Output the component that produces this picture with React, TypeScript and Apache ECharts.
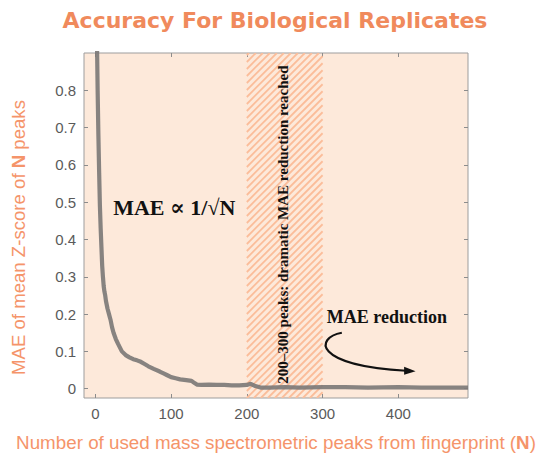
import React, { useEffect, useRef } from "react";
import * as echarts from "echarts";

// ---- data ----
const peaksN = [1, 2, 3, 4, 5, 6, 7, 8, 9, 10, 11, 12, 13, 14, 16, 18, 20, 22, 24, 27, 30, 35, 40, 45, 50, 55, 60, 65, 70, 77, 85, 90, 95, 100, 106, 112, 120, 127, 131, 134, 140, 150, 160, 170, 180, 190, 200, 205, 210, 218, 230, 250, 270, 300, 330, 360, 400, 430, 460, 492];
const maeValues = [1.5, 0.95, 0.8, 0.68, 0.58, 0.49, 0.43, 0.38, 0.33, 0.3, 0.275, 0.26, 0.25, 0.235, 0.215, 0.2, 0.185, 0.165, 0.15, 0.133, 0.12, 0.1, 0.09, 0.084, 0.079, 0.076, 0.072, 0.066, 0.06, 0.053, 0.046, 0.041, 0.036, 0.031, 0.028, 0.025, 0.023, 0.021, 0.015, 0.011, 0.01, 0.011, 0.01, 0.01, 0.009, 0.009, 0.01, 0.013, 0.008, 0.003, 0.003, 0.004, 0.003, 0.004, 0.004, 0.003, 0.004, 0.003, 0.003, 0.003];
const highlightRange = [200, 300];
const xTicks = [0, 100, 200, 300, 400];
const yTicks = [0, 0.1, 0.2, 0.3, 0.4, 0.5, 0.6, 0.7, 0.8];
const xRange = [-15, 492];
const yRange = [-0.025, 0.9];

const titleText = "Accuracy For Biological Replicates";
const xName = "Number of used mass spectrometric peaks from fingerprint ({b|N})";
const yName = "MAE of mean Z-score of {b|N} peaks";
const lawText = "MAE \u221D 1/\u221AN";
const bandText = "200\u2013300 peaks: dramatic MAE reduction reached";
const reductionText = "MAE reduction";

// annotation anchors in data units
const lawAnchor: [number, number] = [23.5, 0.487];
const bandAnchor: [number, number] = [248, 0.44];
const reductionAnchor: [number, number] = [305.5, 0.192];
const arrowStart: [number, number] = [325.4, 0.15];
const arrowCp1: [number, number] = [290.2, 0.137];
const arrowCp2: [number, number] = [286.3, 0.062];
const arrowEnd: [number, number] = [410.3, 0.048];
const arrowTip: [number, number] = [422.8, 0.047];

const ORANGE = "#f08a5c";
const NAME_ORANGE = "#f5946a";
const SANS = '"Liberation Sans", Arial, sans-serif';
const TITLE_FONT = '"DejaVu Sans", Verdana, sans-serif';
const SERIF = '"Liberation Serif", "DejaVu Serif", serif';

export default function App() {
  const ref = useRef<HTMLDivElement>(null);

  useEffect(() => {
    document.body.style.margin = "0";
    if (!ref.current) return;
    const chart = echarts.init(ref.current, null, { renderer: "svg" });

    const tickStyle = { show: true, inside: true, length: 4, lineStyle: { color: "#8c8c8c", width: 1 } };
    const hiddenLine = { show: false, onZero: false };

    const option: any = {
      animation: false,
      backgroundColor: "#ffffff",
      title: {
        text: titleText,
        left: "center",
        top: 4,
        textStyle: { color: ORANGE, fontSize: 22, fontWeight: "bold", fontFamily: TITLE_FONT },
      },
      grid: {
        left: 84,
        right: 82,
        top: 53,
        bottom: 74,
        show: true,
        backgroundColor: "#fde9da",
        borderColor: "#9d9d9d",
        borderWidth: 1,
        containLabel: false,
      },
      xAxis: [
        {
          type: "value",
          min: xRange[0],
          max: xRange[1],
          position: "bottom",
          splitLine: { show: false },
          axisLine: hiddenLine,
          axisTick: { ...tickStyle, customValues: xTicks },
          axisLabel: {
            customValues: xTicks,
            color: "#5a5a5a",
            fontSize: 15,
            fontFamily: SANS,
            margin: 8,
          },
          name: xName,
          nameLocation: "middle",
          nameGap: 35,
          nameTextStyle: {
            color: NAME_ORANGE,
            fontSize: 18.8,
            fontFamily: SANS,
            rich: { b: { color: NAME_ORANGE, fontSize: 18.8, fontFamily: SANS, fontWeight: "bold" } },
          },
        },
        {
          type: "value",
          min: xRange[0],
          max: xRange[1],
          position: "top",
          splitLine: { show: false },
          axisLine: hiddenLine,
          axisTick: { ...tickStyle, customValues: xTicks },
          axisLabel: { show: false },
        },
      ],
      yAxis: [
        {
          type: "value",
          min: yRange[0],
          max: yRange[1],
          position: "left",
          splitLine: { show: false },
          axisLine: hiddenLine,
          axisTick: { ...tickStyle, customValues: yTicks },
          axisLabel: {
            customValues: yTicks,
            color: "#5a5a5a",
            fontSize: 15,
            fontFamily: SANS,
            margin: 8,
          },
          name: yName,
          nameLocation: "middle",
          nameGap: 56,
          nameTextStyle: {
            color: NAME_ORANGE,
            fontSize: 18.6,
            fontFamily: SANS,
            padding: [0, 24, 0, 0],
            rich: { b: { color: NAME_ORANGE, fontSize: 18.6, fontFamily: SANS, fontWeight: "bold" } },
          },
        },
        {
          type: "value",
          min: yRange[0],
          max: yRange[1],
          position: "right",
          splitLine: { show: false },
          axisLine: hiddenLine,
          axisTick: { ...tickStyle, customValues: yTicks },
          axisLabel: { show: false },
        },
      ],
      series: [
        {
          type: "custom",
          z: 2,
          silent: true,
          clip: true,
          data: [highlightRange],
          renderItem: (params: any, api: any) => {
            const a = api.coord([api.value(0), yRange[1]]);
            const b = api.coord([api.value(1), yRange[0]]);
            const x0 = a[0], y0 = a[1], x1 = b[0], y1 = b[1];
            const children: any[] = [];
            const step = 7;
            for (let c = x0 + y0 + 2; c <= x1 + y1; c += step) {
              const xa = Math.max(x0, c - y1);
              const xb = Math.min(x1, c - y0);
              if (xb <= xa) continue;
              children.push({
                type: "line",
                shape: { x1: xa, y1: c - xa, x2: xb, y2: c - xb },
                style: { stroke: "#fbbd9a", lineWidth: 1.8 },
              });
            }
            return { type: "group", children };
          },
        },
        {
          type: "line",
          z: 5,
          data: peaksN.map((n, i) => [n, maeValues[i]]),
          showSymbol: false,
          symbol: "none",
          clip: true,
          lineStyle: { color: "#7d7a78", width: 4.2, opacity: 0.92 },
        },
      ],
    };

    chart.setOption(option);

    const px = (p: [number, number]) => chart.convertToPixel({ gridIndex: 0 }, p) as number[];
    const law = px(lawAnchor);
    const band = px(bandAnchor);
    const red = px(reductionAnchor);
    const s = px(arrowStart);
    const c1 = px(arrowCp1);
    const c2 = px(arrowCp2);
    const e = px(arrowEnd);
    const t = px(arrowTip);

    chart.setOption({
      graphic: [
        {
          type: "text",
          x: law[0],
          y: law[1],
          z: 20,
          style: {
            text: lawText,
            fill: "#111111",
            fontSize: 22,
            fontWeight: "bold",
            fontFamily: SERIF,
            align: "left",
            verticalAlign: "middle",
          },
        },
        {
          type: "text",
          x: band[0],
          y: band[1],
          rotation: Math.PI / 2,
          z: 20,
          style: {
            text: bandText,
            fill: "#111111",
            fontSize: 15,
            fontWeight: "bold",
            fontFamily: SERIF,
            align: "center",
            verticalAlign: "middle",
          },
        },
        {
          type: "text",
          x: red[0],
          y: red[1],
          z: 20,
          style: {
            text: reductionText,
            fill: "#111111",
            fontSize: 18,
            fontWeight: "bold",
            fontFamily: SERIF,
            align: "left",
            verticalAlign: "middle",
          },
        },
        {
          type: "bezierCurve",
          z: 20,
          shape: { x1: s[0], y1: s[1], cpx1: c1[0], cpy1: c1[1], cpx2: c2[0], cpy2: c2[1], x2: e[0], y2: e[1] },
          style: { stroke: "#111111", lineWidth: 2.2, fill: null },
        },
        {
          type: "polygon",
          z: 21,
          shape: {
            points: [
              [t[0], t[1]],
              [e[0] - 2, e[1] - 4],
              [e[0] - 2, e[1] + 4],
            ],
          },
          style: { fill: "#111111" },
        },
      ],
    });

    return () => {
      chart.dispose();
    };
  }, []);

  return <div ref={ref} style={{ width: 550, height: 472 }} />;
}
